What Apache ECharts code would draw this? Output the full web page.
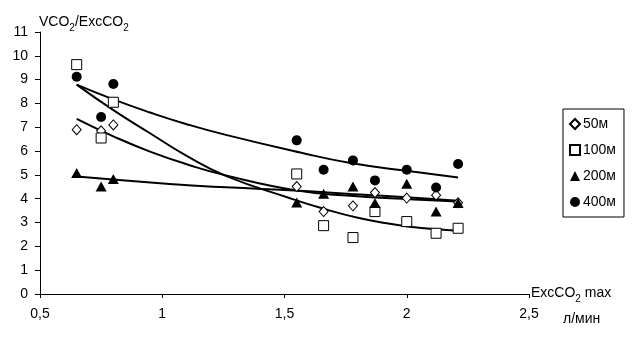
<!DOCTYPE html>
<html><head><meta charset="utf-8">
<script src="https://cdn.jsdelivr.net/npm/echarts@6/dist/echarts.min.js"></script>
<style>html,body{margin:0;padding:0;background:#fff}#c{width:640px;height:341px}</style>
</head><body><div id="c"></div>
<script>
// ---- data ----
const seriesNames = ['50м', '100м', '200м', '400м'];
const xValues = [0.65, 0.75, 0.8, 1.55, 1.66, 1.78, 1.87, 2.0, 2.12, 2.21];
const y50  = [6.9, 6.85, 7.1, 4.51, 3.46, 3.7, 4.26, 4.03, 4.15, 3.83];
const y100 = [9.63, 6.55, 8.05, 5.04, 2.87, 2.37, 3.46, 3.04, 2.55, 2.76];
const y200 = [5.08, 4.51, 4.83, 3.84, 4.21, 4.51, 3.82, 4.63, 3.46, 3.82];
const y400 = [9.12, 7.43, 8.82, 6.45, 5.22, 5.61, 4.77, 5.22, 4.47, 5.46];

// trend lines
const trendX50  = [0.65, 0.8, 0.95, 1.1, 1.26, 1.56, 1.77, 2.03, 2.21];
const trendY50  = [7.35, 6.62, 5.98, 5.45, 4.98, 4.33, 4.12, 3.97, 3.88];
const trendX100 = [0.65, 0.8, 0.95, 1.1, 1.26, 1.52, 1.66, 1.8, 1.93, 2.06, 2.21];
const trendY100 = [8.79, 7.72, 6.75, 5.8, 4.96, 4.03, 3.58, 3.2, 2.95, 2.77, 2.66];
const trendX200 = [0.65, 1.03, 1.26, 1.56, 1.77, 2.03, 2.21];
const trendY200 = [4.93, 4.62, 4.48, 4.34, 4.2, 4.04, 3.91];
const trendX400 = [0.65, 0.8, 0.95, 1.1, 1.26, 1.56, 1.77, 2.03, 2.21];
const trendY400 = [8.79, 8.17, 7.62, 7.13, 6.68, 5.95, 5.5, 5.13, 4.89];

const xTickLabels = {0.5: '0,5', 1: '1', 1.5: '1,5', 2: '2', 2.5: '2,5'};
const xUnit = 'л/мин';

// ---- build ----
const zip = (xs, ys) => xs.map((x, i) => [x, ys[i]]);
const FONT = '"Liberation Sans", Arial, sans-serif';
const symbols = ['diamond', 'rect', 'triangle', 'circle'];
const sizes = [[9, 10], 10, [11, 10], 10];
const hollow = [true, true, false, false];
const ySets = [y50, y100, y200, y400];
const trends = [[trendX50, trendY50], [trendX100, trendY100], [trendX200, trendY200], [trendX400, trendY400]];

const series = [];
trends.forEach((t, i) => {
  series.push({
    name: 'trend ' + seriesNames[i], type: 'line', data: zip(t[0], t[1]),
    smooth: 0.5, showSymbol: false, symbol: 'none', silent: true,
    lineStyle: {color: '#000', width: 2}, z: 2
  });
});
ySets.forEach((ys, i) => {
  series.push({
    name: seriesNames[i], type: 'scatter', data: zip(xValues, ys),
    symbol: symbols[i], symbolSize: sizes[i],
    itemStyle: hollow[i] ? {color: '#fff', borderColor: '#000', borderWidth: 1, opacity: 1}
                         : {color: '#000', borderColor: '#000', borderWidth: 0, opacity: 1},
    z: 5
  });
});

const richSub = {
  a: {fontFamily: FONT, fontSize: 14, fontWeight: 'normal', color: '#000', lineHeight: 16, verticalAlign: 'top'},
  s: {fontFamily: FONT, fontSize: 10, fontWeight: 'normal', color: '#000', lineHeight: 10, padding: [8, 0, 0, 0], verticalAlign: 'top'}
};

const chart = echarts.init(document.getElementById('c'), null, {renderer: 'canvas'});
chart.setOption({
  animation: false,
  backgroundColor: '#fff',
  textStyle: {fontFamily: FONT, color: '#000'},
  title: {
    text: '{a|VCO}{s|2}{a|/ExcCO}{s|2}', left: 34, top: 10,
    textStyle: {fontWeight: 'normal', rich: richSub}
  },
  grid: {left: 40, right: 111, top: 32, bottom: 47, containLabel: false},
  legend: {
    data: seriesNames, orient: 'vertical', left: 563, top: 109,
    padding: [8, 8, 8, 6], itemGap: 12, itemWidth: 10, itemHeight: 10,
    borderColor: '#000', borderWidth: 1,
    textStyle: {fontFamily: FONT, fontSize: 14, color: '#000', padding: [0, 0, 0, -2]}
  },
  xAxis: {
    type: 'value', min: 0.5, max: 2.5, interval: 0.5,
    name: '{a|ExcCO}{s|2}{a| max}', nameLocation: 'end', nameGap: 2,
    nameTextStyle: {rich: richSub},
    axisLine: {show: true, onZero: false, lineStyle: {color: '#000', width: 1}},
    axisTick: {show: true, length: 4, inside: false, lineStyle: {color: '#000'}},
    axisLabel: {color: '#000', fontSize: 14, fontFamily: FONT, margin: 13,
      formatter: v => xTickLabels[v] !== undefined ? xTickLabels[v] : String(v).replace('.', ',')},
    splitLine: {show: false}
  },
  yAxis: {
    type: 'value', min: 0, max: 11, interval: 1,
    axisLine: {show: true, lineStyle: {color: '#000', width: 1}},
    axisTick: {show: true, length: 5, inside: false, lineStyle: {color: '#000'}},
    axisLabel: {color: '#000', fontSize: 14, fontFamily: FONT, margin: 12},
    splitLine: {show: false}
  },
  graphic: [{
    type: 'text', left: 563, top: 312,
    style: {text: xUnit, fontSize: 14, fontFamily: FONT, fill: '#000'}
  }],
  series: series
});
</script>
</body></html>
